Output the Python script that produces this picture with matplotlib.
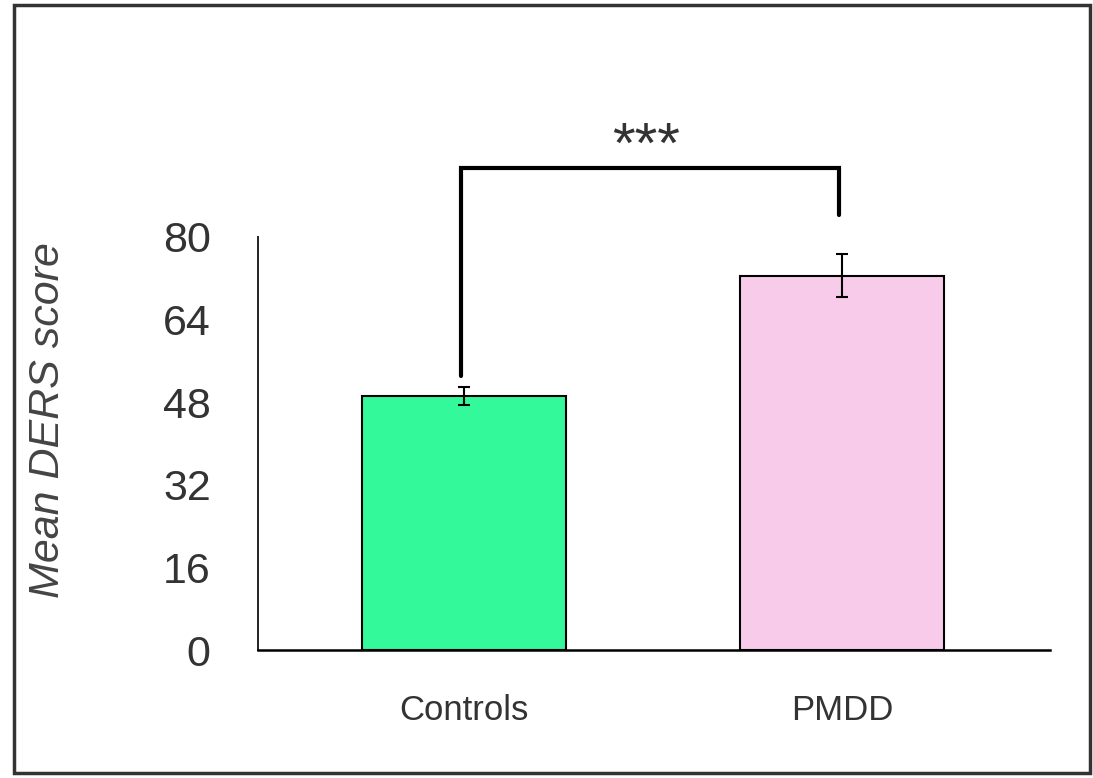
import numpy as np
import matplotlib.pyplot as plt
from matplotlib.patches import Rectangle

groups = ["Controls", "PMDD"]
means = [49.2, 72.5]
sems = [1.8, 4.2]
colors = ["#33F99A", "#F9CBEB"]
yticks = [0, 16, 32, 48, 64, 80]
stars = "***"

plt.rcParams["font.family"] = ["Liberation Sans", "DejaVu Sans"]

fig = plt.figure(figsize=(10.93, 7.78), dpi=100)
ax = fig.add_axes([0.236, 0.1645, 0.725, 0.531])

x = np.arange(len(groups))
ax.bar(x, means, width=0.54, color=colors, edgecolor="black", linewidth=1.5, zorder=2)
ax.errorbar(x, means, yerr=sems, fmt="none", ecolor="black", elinewidth=1.5,
            capsize=4.5, capthick=1.5, zorder=3)

ax.set_xlim(-0.545, 1.55)
ax.set_ylim(0, 80)
ax.set_yticks(yticks)
ax.set_xticks(x)
ax.set_xticklabels(groups)
ax.tick_params(axis="y", length=0, pad=34, labelsize=31, labelcolor="#333333")
ax.tick_params(axis="x", length=0, pad=32, labelsize=25, labelcolor="#333333")
ax.spines["top"].set_visible(False)
ax.spines["right"].set_visible(False)
ax.spines["left"].set_linewidth(1.4)
ax.spines["left"].set_color("#222222")
ax.spines["bottom"].set_linewidth(1.8)
ax.set_ylabel("Mean DERS score", fontsize=31, style="italic", color="#444444")
ax.yaxis.set_label_coords(-0.24, 0.557)

# significance bracket
y_top = 93.4
ax.plot([x[0] - 0.008, x[0] - 0.008, x[1] - 0.01, x[1] - 0.01],
        [means[0] + sems[0] + 2.0, y_top, y_top, means[1] + sems[1] + 7.5],
        color="black", lw=3, clip_on=False, solid_capstyle="round", solid_joinstyle="miter")
ax.text((x[0] + x[1]) / 2 - 0.02, y_top + 1.0, stars, ha="center", va="baseline",
        fontsize=42, color="#333333", clip_on=False)

# outer frame
fig.patches.append(Rectangle((0.013, 0.006), 0.984, 0.987, transform=fig.transFigure,
                             fill=False, edgecolor="#333333", linewidth=2.5))

plt.savefig("out.png", dpi=100)
